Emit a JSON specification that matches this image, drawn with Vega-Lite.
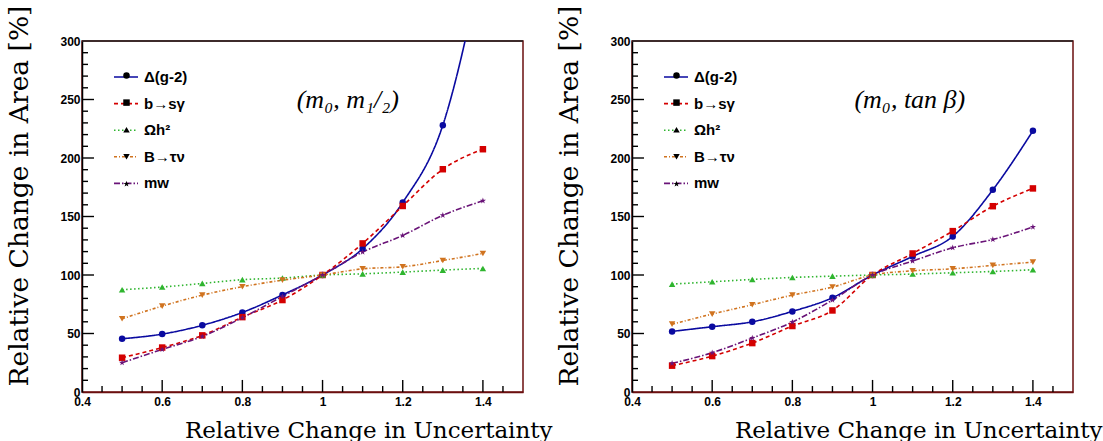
{
  "$schema": "https://vega.github.io/schema/vega-lite/v6.json",
  "padding": {"left": 5, "top": 4, "right": 0, "bottom": 0},
  "config": {
    "font": "Liberation Sans",
    "view": {"stroke": "#6b0f0f", "strokeWidth": 1.5},
    "concat": {"spacing": 109},
    "axis": {"grid": false, "labelFontWeight": "bold", "labelFontSize": 12, "labelColor": "black", "labelFlush": false, "labelOverlap": false,
      "titleColor": "black", "titleFontWeight": "normal", "titleFont": "DejaVu Serif"}
  },
  "datasets": {
    "one": [{"note": "annotation"}],
    "xticks": [
      {"v": 0.45, "kind": "minor"}, {"v": 0.5, "kind": "minor"}, {"v": 0.55, "kind": "minor"}, {"v": 0.6, "kind": "major"},
      {"v": 0.65, "kind": "minor"}, {"v": 0.7, "kind": "minor"}, {"v": 0.75, "kind": "minor"}, {"v": 0.8, "kind": "major"},
      {"v": 0.85, "kind": "minor"}, {"v": 0.9, "kind": "minor"}, {"v": 0.95, "kind": "minor"}, {"v": 1.0, "kind": "major"},
      {"v": 1.05, "kind": "minor"}, {"v": 1.1, "kind": "minor"}, {"v": 1.15, "kind": "minor"}, {"v": 1.2, "kind": "major"},
      {"v": 1.25, "kind": "minor"}, {"v": 1.3, "kind": "minor"}, {"v": 1.35, "kind": "minor"}, {"v": 1.4, "kind": "major"},
      {"v": 1.45, "kind": "minor"}
    ],
    "yticks": [
      {"v": 10, "kind": "minor"}, {"v": 20, "kind": "minor"}, {"v": 30, "kind": "minor"}, {"v": 40, "kind": "minor"}, {"v": 50, "kind": "major"},
      {"v": 60, "kind": "minor"}, {"v": 70, "kind": "minor"}, {"v": 80, "kind": "minor"}, {"v": 90, "kind": "minor"}, {"v": 100, "kind": "major"},
      {"v": 110, "kind": "minor"}, {"v": 120, "kind": "minor"}, {"v": 130, "kind": "minor"}, {"v": 140, "kind": "minor"}, {"v": 150, "kind": "major"},
      {"v": 160, "kind": "minor"}, {"v": 170, "kind": "minor"}, {"v": 180, "kind": "minor"}, {"v": 190, "kind": "minor"}, {"v": 200, "kind": "major"},
      {"v": 210, "kind": "minor"}, {"v": 220, "kind": "minor"}, {"v": 230, "kind": "minor"}, {"v": 240, "kind": "minor"}, {"v": 250, "kind": "major"},
      {"v": 260, "kind": "minor"}, {"v": 270, "kind": "minor"}, {"v": 280, "kind": "minor"}, {"v": 290, "kind": "minor"}
    ],
    "rows": [
      {"panel": "L", "series": "Δ(g-2)", "unc": 0.5, "area": 45.5},
      {"panel": "L", "series": "Δ(g-2)", "unc": 0.6, "area": 49.5},
      {"panel": "L", "series": "Δ(g-2)", "unc": 0.7, "area": 57},
      {"panel": "L", "series": "Δ(g-2)", "unc": 0.8, "area": 68},
      {"panel": "L", "series": "Δ(g-2)", "unc": 0.9, "area": 83},
      {"panel": "L", "series": "Δ(g-2)", "unc": 1.0, "area": 100},
      {"panel": "L", "series": "Δ(g-2)", "unc": 1.1, "area": 122.5},
      {"panel": "L", "series": "Δ(g-2)", "unc": 1.2, "area": 162},
      {"panel": "L", "series": "Δ(g-2)", "unc": 1.3, "area": 228},
      {"panel": "L", "series": "Δ(g-2)", "unc": 1.4, "area": 370},
      {"panel": "L", "series": "b→sγ", "unc": 0.5, "area": 29.3},
      {"panel": "L", "series": "b→sγ", "unc": 0.6, "area": 38},
      {"panel": "L", "series": "b→sγ", "unc": 0.7, "area": 48.4},
      {"panel": "L", "series": "b→sγ", "unc": 0.8, "area": 64},
      {"panel": "L", "series": "b→sγ", "unc": 0.9, "area": 78.6},
      {"panel": "L", "series": "b→sγ", "unc": 1.0, "area": 100},
      {"panel": "L", "series": "b→sγ", "unc": 1.1, "area": 127},
      {"panel": "L", "series": "b→sγ", "unc": 1.2, "area": 159},
      {"panel": "L", "series": "b→sγ", "unc": 1.3, "area": 190.4},
      {"panel": "L", "series": "b→sγ", "unc": 1.4, "area": 207.5},
      {"panel": "L", "series": "Ωh²", "unc": 0.5, "area": 87.4},
      {"panel": "L", "series": "Ωh²", "unc": 0.6, "area": 89.7},
      {"panel": "L", "series": "Ωh²", "unc": 0.7, "area": 92.8},
      {"panel": "L", "series": "Ωh²", "unc": 0.8, "area": 96},
      {"panel": "L", "series": "Ωh²", "unc": 0.9, "area": 97.4},
      {"panel": "L", "series": "Ωh²", "unc": 1.0, "area": 100},
      {"panel": "L", "series": "Ωh²", "unc": 1.1, "area": 101},
      {"panel": "L", "series": "Ωh²", "unc": 1.2, "area": 102.5},
      {"panel": "L", "series": "Ωh²", "unc": 1.3, "area": 104.2},
      {"panel": "L", "series": "Ωh²", "unc": 1.4, "area": 105.6},
      {"panel": "L", "series": "B→τν", "unc": 0.5, "area": 62.6},
      {"panel": "L", "series": "B→τν", "unc": 0.6, "area": 73.4},
      {"panel": "L", "series": "B→τν", "unc": 0.7, "area": 82.8},
      {"panel": "L", "series": "B→τν", "unc": 0.8, "area": 90},
      {"panel": "L", "series": "B→τν", "unc": 0.9, "area": 95.6},
      {"panel": "L", "series": "B→τν", "unc": 1.0, "area": 100},
      {"panel": "L", "series": "B→τν", "unc": 1.1, "area": 105.3},
      {"panel": "L", "series": "B→τν", "unc": 1.2, "area": 107},
      {"panel": "L", "series": "B→τν", "unc": 1.3, "area": 112.4},
      {"panel": "L", "series": "B→τν", "unc": 1.4, "area": 118.4},
      {"panel": "L", "series": "mᴡ", "unc": 0.5, "area": 25},
      {"panel": "L", "series": "mᴡ", "unc": 0.6, "area": 36.4},
      {"panel": "L", "series": "mᴡ", "unc": 0.7, "area": 47.5},
      {"panel": "L", "series": "mᴡ", "unc": 0.8, "area": 63.5},
      {"panel": "L", "series": "mᴡ", "unc": 0.9, "area": 81.7},
      {"panel": "L", "series": "mᴡ", "unc": 1.0, "area": 100},
      {"panel": "L", "series": "mᴡ", "unc": 1.1, "area": 119.6},
      {"panel": "L", "series": "mᴡ", "unc": 1.2, "area": 133.8},
      {"panel": "L", "series": "mᴡ", "unc": 1.3, "area": 151},
      {"panel": "L", "series": "mᴡ", "unc": 1.4, "area": 163.4},
      {"panel": "R", "series": "Δ(g-2)", "unc": 0.5, "area": 51.8},
      {"panel": "R", "series": "Δ(g-2)", "unc": 0.6, "area": 55.8},
      {"panel": "R", "series": "Δ(g-2)", "unc": 0.7, "area": 60},
      {"panel": "R", "series": "Δ(g-2)", "unc": 0.8, "area": 68.9},
      {"panel": "R", "series": "Δ(g-2)", "unc": 0.9, "area": 80.6},
      {"panel": "R", "series": "Δ(g-2)", "unc": 1.0, "area": 100},
      {"panel": "R", "series": "Δ(g-2)", "unc": 1.1, "area": 115.9},
      {"panel": "R", "series": "Δ(g-2)", "unc": 1.2, "area": 133},
      {"panel": "R", "series": "Δ(g-2)", "unc": 1.3, "area": 172.8},
      {"panel": "R", "series": "Δ(g-2)", "unc": 1.4, "area": 223.2},
      {"panel": "R", "series": "b→sγ", "unc": 0.5, "area": 22.5},
      {"panel": "R", "series": "b→sγ", "unc": 0.6, "area": 30.7},
      {"panel": "R", "series": "b→sγ", "unc": 0.7, "area": 41.8},
      {"panel": "R", "series": "b→sγ", "unc": 0.8, "area": 56.4},
      {"panel": "R", "series": "b→sγ", "unc": 0.9, "area": 69.7},
      {"panel": "R", "series": "b→sγ", "unc": 1.0, "area": 100},
      {"panel": "R", "series": "b→sγ", "unc": 1.1, "area": 118.4},
      {"panel": "R", "series": "b→sγ", "unc": 1.2, "area": 137.5},
      {"panel": "R", "series": "b→sγ", "unc": 1.3, "area": 158.8},
      {"panel": "R", "series": "b→sγ", "unc": 1.4, "area": 174},
      {"panel": "R", "series": "Ωh²", "unc": 0.5, "area": 92.2},
      {"panel": "R", "series": "Ωh²", "unc": 0.6, "area": 94.2},
      {"panel": "R", "series": "Ωh²", "unc": 0.7, "area": 96.2},
      {"panel": "R", "series": "Ωh²", "unc": 0.8, "area": 97.9},
      {"panel": "R", "series": "Ωh²", "unc": 0.9, "area": 99},
      {"panel": "R", "series": "Ωh²", "unc": 1.0, "area": 100},
      {"panel": "R", "series": "Ωh²", "unc": 1.1, "area": 100.8},
      {"panel": "R", "series": "Ωh²", "unc": 1.2, "area": 101.9},
      {"panel": "R", "series": "Ωh²", "unc": 1.3, "area": 103},
      {"panel": "R", "series": "Ωh²", "unc": 1.4, "area": 104.5},
      {"panel": "R", "series": "B→τν", "unc": 0.5, "area": 58},
      {"panel": "R", "series": "B→τν", "unc": 0.6, "area": 66.6},
      {"panel": "R", "series": "B→τν", "unc": 0.7, "area": 74.6},
      {"panel": "R", "series": "B→τν", "unc": 0.8, "area": 82.8},
      {"panel": "R", "series": "B→τν", "unc": 0.9, "area": 89.7},
      {"panel": "R", "series": "B→τν", "unc": 1.0, "area": 100},
      {"panel": "R", "series": "B→τν", "unc": 1.1, "area": 103.6},
      {"panel": "R", "series": "B→τν", "unc": 1.2, "area": 105.3},
      {"panel": "R", "series": "B→τν", "unc": 1.3, "area": 108.2},
      {"panel": "R", "series": "B→τν", "unc": 1.4, "area": 111},
      {"panel": "R", "series": "mᴡ", "unc": 0.5, "area": 24.5},
      {"panel": "R", "series": "mᴡ", "unc": 0.6, "area": 33.6},
      {"panel": "R", "series": "mᴡ", "unc": 0.7, "area": 46.1},
      {"panel": "R", "series": "mᴡ", "unc": 0.8, "area": 59.8},
      {"panel": "R", "series": "mᴡ", "unc": 0.9, "area": 78.6},
      {"panel": "R", "series": "mᴡ", "unc": 1.0, "area": 100},
      {"panel": "R", "series": "mᴡ", "unc": 1.1, "area": 111.9},
      {"panel": "R", "series": "mᴡ", "unc": 1.2, "area": 123.3},
      {"panel": "R", "series": "mᴡ", "unc": 1.3, "area": 130.4},
      {"panel": "R", "series": "mᴡ", "unc": 1.4, "area": 141}
    ]
  },
  "bounds": "flush",
  "resolve": {
    "scale": {"color": "independent", "shape": "independent", "strokeDash": "independent"},
    "legend": {"color": "independent", "shape": "independent", "strokeDash": "independent"}
  },
  "hconcat": [
    {
      "width": 441, "height": 351,
      "resolve": {"axis": {"x": "independent", "y": "independent"}},
      "layer": [
        {
          "data": {"name": "one"},
          "mark": {"type": "rule", "color": "#222222", "strokeWidth": 1.5},
          "encoding": {"y": {"datum": 300, "type": "quantitative", "axis": null}}
        },
        {
          "data": {"name": "xticks"},
          "transform": [{"filter": "datum.kind === 'major'"}],
          "mark": {"type": "rule", "color": "#000000", "strokeWidth": 1.4},
          "encoding": {
            "x": {"field": "v", "type": "quantitative", "axis": null},
            "y": {"datum": 0, "type": "quantitative", "axis": null},
            "y2": {"datum": 10.3}
          }
        },
        {
          "data": {"name": "xticks"},
          "transform": [{"filter": "datum.kind === 'minor'"}],
          "mark": {"type": "rule", "color": "#000000", "strokeWidth": 1.4},
          "encoding": {
            "x": {"field": "v", "type": "quantitative", "axis": null},
            "y": {"datum": 0, "type": "quantitative", "axis": null},
            "y2": {"datum": 5.1}
          }
        },
        {
          "data": {"name": "yticks"},
          "transform": [{"filter": "datum.kind === 'major'"}],
          "mark": {"type": "rule", "color": "#000000", "strokeWidth": 1.4},
          "encoding": {
            "y": {"field": "v", "type": "quantitative", "axis": null},
            "x": {"datum": 0.4, "type": "quantitative", "axis": null},
            "x2": {"datum": 0.4299}
          }
        },
        {
          "data": {"name": "yticks"},
          "transform": [{"filter": "datum.kind === 'minor'"}],
          "mark": {"type": "rule", "color": "#000000", "strokeWidth": 1.4},
          "encoding": {
            "y": {"field": "v", "type": "quantitative", "axis": null},
            "x": {"datum": 0.4, "type": "quantitative", "axis": null},
            "x2": {"datum": 0.41497}
          }
        },
        {
          "data": {"name": "rows"},
          "transform": [{"filter": "datum.panel === 'L'"}],
          "mark": {"type": "line", "interpolate": "monotone", "strokeWidth": 1.6, "clip": true},
          "encoding": {
            "x": {"field": "unc", "type": "quantitative", "scale": {"domain": [0.4, 1.5], "nice": false, "zero": false},
              "axis": {"orient": "bottom", "title": "Relative Change in Uncertainty", "values": [0.4, 0.6, 0.8, 1.0, 1.2, 1.4], "format": "~g",
                "ticks": false, "labelPadding": 4, "domainColor": "#6b0f0f", "domainWidth": 1.5,
                "titleFontSize": 23, "titleAlign": "right", "titleX": 470, "titleY": 45, "titleBaseline": "alphabetic"}},
            "y": {"field": "area", "type": "quantitative", "scale": {"domain": [0, 300], "nice": false},
              "axis": {"orient": "left", "title": "Relative Change in Area [%]", "values": [0, 50, 100, 150, 200, 250, 300],
                "ticks": false, "labelPadding": 2, "domainColor": "black", "domainWidth": 1.5,
                "titleFontSize": 26.5, "titleAngle": 270, "titleAlign": "left", "titleX": -55, "titleY": 345, "titleBaseline": "alphabetic"}},
            "color": {"field": "series", "type": "nominal",
              "scale": {"domain": ["Δ(g-2)", "b→sγ", "Ωh²", "B→τν", "mᴡ"], "range": ["#0a0aa0", "#d40000", "#2fb52f", "#d0731f", "#6a1478"]},
              "legend": null},
            "strokeDash": {"field": "series", "type": "nominal",
              "scale": {"domain": ["Δ(g-2)", "b→sγ", "Ωh²", "B→τν", "mᴡ"], "range": [[1, 0], [4, 3], [1.5, 2.5], [3, 2, 1, 2], [6, 2, 1.5, 2]]},
              "legend": {"title": null, "orient": "none", "legendX": 18, "legendY": 23, "symbolType": "stroke", "symbolSize": 576, "symbolStrokeWidth": 1.6, "symbolOffset": 13,
                "labelFontSize": 15, "labelFontWeight": "bold", "labelColor": "black", "rowPadding": 5.6, "padding": 0, "labelOffset": 5,
                "encode": {"symbols": {"update": {"stroke": {"signal": "datum.value === 'Δ(g-2)' ? '#0a0aa0' : datum.value === 'b→sγ' ? '#d40000' : datum.value === 'Ωh²' ? '#2fb52f' : datum.value === 'B→τν' ? '#d0731f' : '#6a1478'"}}}}}}
          }
        },
        {
          "data": {"name": "rows"},
          "transform": [{"filter": "datum.panel === 'L'"}],
          "mark": {"type": "point", "filled": true, "opacity": 1, "size": 42, "clip": true},
          "encoding": {
            "x": {"field": "unc", "type": "quantitative", "axis": null},
            "y": {"field": "area", "type": "quantitative", "axis": null},
            "color": {"field": "series", "type": "nominal",
              "legend": {"title": null, "orient": "top-left", "offset": 27, "symbolSize": 42, "symbolOffset": 10,
                "labelFontSize": 15, "labelOpacity": 0, "rowPadding": 11.1, "padding": 0}},
            "shape": {"field": "series", "type": "nominal",
              "scale": {"domain": ["Δ(g-2)", "b→sγ", "Ωh²", "B→τν", "mᴡ"], "range": ["circle", "square", "triangle-up", "triangle-down", "M0,-1L0.2245,-0.309L0.9511,-0.309L0.3633,0.118L0.5878,0.809L0,0.382L-0.5878,0.809L-0.3633,0.118L-0.9511,-0.309L-0.2245,-0.309Z"]},
              "legend": {"title": null, "orient": "top-left", "offset": 27, "symbolSize": 42, "symbolOffset": 10,
                "labelFontSize": 15, "labelOpacity": 0, "rowPadding": 11.1, "padding": 0}}
          }
        },
        {
          "data": {"name": "one"},
          "mark": {"type": "text", "font": "Liberation Serif", "fontStyle": "italic", "fontWeight": "normal", "fontSize": 26, "color": "black"},
          "encoding": {
            "x": {"datum": 1.063, "type": "quantitative", "axis": null},
            "y": {"datum": 250, "type": "quantitative", "axis": null},
            "text": {"value": "(m₀, m₁/₂)"}}
        }
      ]
    },
    {
      "width": 441, "height": 351,
      "resolve": {"axis": {"x": "independent", "y": "independent"}},
      "layer": [
        {
          "data": {"name": "one"},
          "mark": {"type": "rule", "color": "#222222", "strokeWidth": 1.5},
          "encoding": {"y": {"datum": 300, "type": "quantitative", "axis": null}}
        },
        {
          "data": {"name": "xticks"},
          "transform": [{"filter": "datum.kind === 'major'"}],
          "mark": {"type": "rule", "color": "#000000", "strokeWidth": 1.4},
          "encoding": {
            "x": {"field": "v", "type": "quantitative", "axis": null},
            "y": {"datum": 0, "type": "quantitative", "axis": null},
            "y2": {"datum": 10.3}
          }
        },
        {
          "data": {"name": "xticks"},
          "transform": [{"filter": "datum.kind === 'minor'"}],
          "mark": {"type": "rule", "color": "#000000", "strokeWidth": 1.4},
          "encoding": {
            "x": {"field": "v", "type": "quantitative", "axis": null},
            "y": {"datum": 0, "type": "quantitative", "axis": null},
            "y2": {"datum": 5.1}
          }
        },
        {
          "data": {"name": "yticks"},
          "transform": [{"filter": "datum.kind === 'major'"}],
          "mark": {"type": "rule", "color": "#000000", "strokeWidth": 1.4},
          "encoding": {
            "y": {"field": "v", "type": "quantitative", "axis": null},
            "x": {"datum": 0.4, "type": "quantitative", "axis": null},
            "x2": {"datum": 0.4299}
          }
        },
        {
          "data": {"name": "yticks"},
          "transform": [{"filter": "datum.kind === 'minor'"}],
          "mark": {"type": "rule", "color": "#000000", "strokeWidth": 1.4},
          "encoding": {
            "y": {"field": "v", "type": "quantitative", "axis": null},
            "x": {"datum": 0.4, "type": "quantitative", "axis": null},
            "x2": {"datum": 0.41497}
          }
        },
        {
          "data": {"name": "rows"},
          "transform": [{"filter": "datum.panel === 'R'"}],
          "mark": {"type": "line", "interpolate": "monotone", "strokeWidth": 1.6, "clip": true},
          "encoding": {
            "x": {"field": "unc", "type": "quantitative", "scale": {"domain": [0.4, 1.5], "nice": false, "zero": false},
              "axis": {"orient": "bottom", "title": "Relative Change in Uncertainty", "values": [0.4, 0.6, 0.8, 1.0, 1.2, 1.4], "format": "~g",
                "ticks": false, "labelPadding": 4, "domainColor": "#6b0f0f", "domainWidth": 1.5,
                "titleFontSize": 23, "titleAlign": "right", "titleX": 470, "titleY": 45, "titleBaseline": "alphabetic"}},
            "y": {"field": "area", "type": "quantitative", "scale": {"domain": [0, 300], "nice": false},
              "axis": {"orient": "left", "title": "Relative Change in Area [%]", "values": [0, 50, 100, 150, 200, 250, 300],
                "ticks": false, "labelPadding": 2, "domainColor": "black", "domainWidth": 1.5,
                "titleFontSize": 26.5, "titleAngle": 270, "titleAlign": "left", "titleX": -55, "titleY": 345, "titleBaseline": "alphabetic"}},
            "color": {"field": "series", "type": "nominal",
              "scale": {"domain": ["Δ(g-2)", "b→sγ", "Ωh²", "B→τν", "mᴡ"], "range": ["#0a0aa0", "#d40000", "#2fb52f", "#d0731f", "#6a1478"]},
              "legend": null},
            "strokeDash": {"field": "series", "type": "nominal",
              "scale": {"domain": ["Δ(g-2)", "b→sγ", "Ωh²", "B→τν", "mᴡ"], "range": [[1, 0], [4, 3], [1.5, 2.5], [3, 2, 1, 2], [6, 2, 1.5, 2]]},
              "legend": {"title": null, "orient": "none", "legendX": 18, "legendY": 23, "symbolType": "stroke", "symbolSize": 576, "symbolStrokeWidth": 1.6, "symbolOffset": 13,
                "labelFontSize": 15, "labelFontWeight": "bold", "labelColor": "black", "rowPadding": 5.6, "padding": 0, "labelOffset": 5,
                "encode": {"symbols": {"update": {"stroke": {"signal": "datum.value === 'Δ(g-2)' ? '#0a0aa0' : datum.value === 'b→sγ' ? '#d40000' : datum.value === 'Ωh²' ? '#2fb52f' : datum.value === 'B→τν' ? '#d0731f' : '#6a1478'"}}}}}}
          }
        },
        {
          "data": {"name": "rows"},
          "transform": [{"filter": "datum.panel === 'R'"}],
          "mark": {"type": "point", "filled": true, "opacity": 1, "size": 42, "clip": true},
          "encoding": {
            "x": {"field": "unc", "type": "quantitative", "axis": null},
            "y": {"field": "area", "type": "quantitative", "axis": null},
            "color": {"field": "series", "type": "nominal",
              "legend": {"title": null, "orient": "top-left", "offset": 27, "symbolSize": 42, "symbolOffset": 10,
                "labelFontSize": 15, "labelOpacity": 0, "rowPadding": 11.1, "padding": 0}},
            "shape": {"field": "series", "type": "nominal",
              "scale": {"domain": ["Δ(g-2)", "b→sγ", "Ωh²", "B→τν", "mᴡ"], "range": ["circle", "square", "triangle-up", "triangle-down", "M0,-1L0.2245,-0.309L0.9511,-0.309L0.3633,0.118L0.5878,0.809L0,0.382L-0.5878,0.809L-0.3633,0.118L-0.9511,-0.309L-0.2245,-0.309Z"]},
              "legend": {"title": null, "orient": "top-left", "offset": 27, "symbolSize": 42, "symbolOffset": 10,
                "labelFontSize": 15, "labelOpacity": 0, "rowPadding": 11.1, "padding": 0}}
          }
        },
        {
          "data": {"name": "one"},
          "mark": {"type": "text", "font": "Liberation Serif", "fontStyle": "italic", "fontWeight": "normal", "fontSize": 26, "color": "black"},
          "encoding": {
            "x": {"datum": 1.093, "type": "quantitative", "axis": null},
            "y": {"datum": 250, "type": "quantitative", "axis": null},
            "text": {"value": "(m₀, tan β)"}}
        }
      ]
    }
  ]
}
